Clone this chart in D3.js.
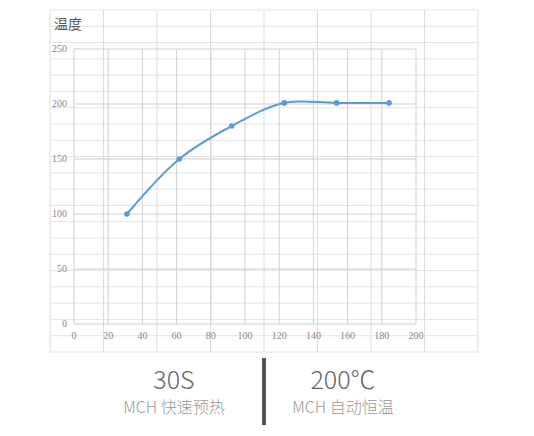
<!DOCTYPE html><html><head><meta charset="utf-8"><script src="https://d3js.org/d3.v7.min.js"></script>
<style>body{margin:0;background:#fff}</style></head><body><svg id="c" width="534" height="436"></svg><script>
const xValues=[30,60,90,120,150,180];
const temps=[100,150,180,201,201,201];
const xTicks=[0,20,40,60,80,100,120,140,160,180,200];
const yTicks=[0,50,100,150,200,250];
const yTitle="温度";
const captions=[["30S","MCH 快速预热"],["200℃","MCH 自动恒温"]];
const svg=d3.select("#c");
const bx=d3.scaleLinear().domain([0,8]).range([50,478]);
const by=d3.scaleLinear().domain([0,21]).range([10,352]);
const bg=svg.append("g").attr("stroke","#e4e4e4").attr("stroke-width",1);
d3.range(9).forEach(i=>bg.append("line").attr("x1",bx(i)).attr("x2",bx(i)).attr("y1",10).attr("y2",352).attr("stroke","#dcdcdc"));
d3.range(22).forEach(i=>bg.append("line").attr("x1",50).attr("x2",478).attr("y1",by(i)).attr("y2",by(i)));
const xAxis=d3.scaleLinear().domain([0,200]).range([74,416]);
const x=d3.scaleLinear().domain([0,200]).range([74.5,424]);
const y=d3.scaleLinear().domain([0,250]).range([324,49]);
const g=svg.append("g");
g.selectAll(".vx").data(xTicks).join("line").attr("x1",d=>xAxis(d)).attr("x2",d=>xAxis(d)).attr("y1",y(250)).attr("y2",y(0)).attr("stroke","#d0d0d0");
g.selectAll(".hy").data(yTicks).join("line").attr("x1",xAxis(0)).attr("x2",xAxis(200)).attr("y1",d=>y(d)).attr("y2",d=>y(d)).attr("stroke","#cfcfcf");
g.selectAll(".xl").data(xTicks).join("text").attr("x",d=>xAxis(d)).attr("y",339).attr("text-anchor","middle").attr("font-family","Liberation Serif").attr("font-size",10).attr("fill","#888").text(d=>d);
g.selectAll(".yl").data(yTicks).join("text").attr("x",67).attr("y",d=>y(d)+3).attr("text-anchor","end").attr("font-family","Liberation Serif").attr("font-size",10).attr("fill","#888").text(d=>d);
svg.append("text").attr("x",54).attr("y",29).attr("font-family","Noto Sans CJK SC").attr("font-size",14).attr("fill","#555").text(yTitle);
const pts=xValues.map((v,i)=>[v,temps[i]]);
g.append("path").attr("d",d3.line().x(d=>x(d[0])).y(d=>y(d[1])).curve(d3.curveCatmullRom)(pts)).attr("fill","none").attr("stroke","#5b9bd5").attr("stroke-width",2);
g.selectAll("circle").data(pts).join("circle").attr("cx",d=>x(d[0])).attr("cy",d=>y(d[1])).attr("r",2.8).attr("fill","#5b9bd5");
svg.append("rect").attr("x",262).attr("y",358).attr("width",4).attr("height",67).attr("fill","#555");
[174,343].forEach((cx,i)=>{
svg.append("text").attr("x",cx).attr("y",389).attr("text-anchor","middle").attr("font-family","Noto Sans CJK SC").attr("font-weight",300).attr("font-size",25).attr("fill","#666").text(captions[i][0]);
svg.append("text").attr("x",cx).attr("y",413).attr("text-anchor","middle").attr("font-family","Noto Sans CJK SC").attr("font-weight",300).attr("font-size",16).attr("fill","#999").text(captions[i][1]);
});
</script></body></html>
